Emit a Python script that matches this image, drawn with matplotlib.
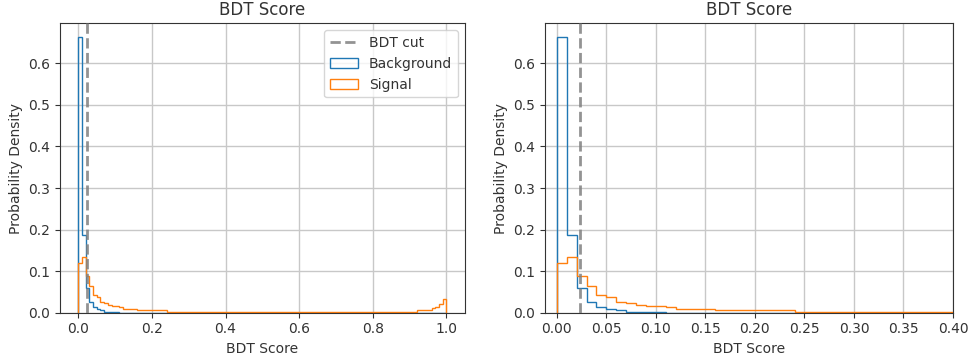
import numpy as np
import matplotlib
matplotlib.use('Agg')
import matplotlib.pyplot as plt

# bin edges of the BDT score histograms (width 0.01)
edges = np.linspace(0.0, 1.0, 101)

# background: fraction per bin, zero beyond 0.11
background = [0.663, 0.188, 0.060, 0.026, 0.0144, 0.0096, 0.0058, 0.003, 0.002, 0.001,
              0.001] + [0.0] * 89

# signal: fraction per bin
signal = [0.120, 0.1335, 0.088, 0.064, 0.0424, 0.038, 0.026, 0.024, 0.0184, 0.016,
          0.016, 0.013, 0.0096, 0.0096, 0.0096, 0.0096, 0.006, 0.006, 0.006, 0.006,
          0.006, 0.006, 0.006, 0.006, 0.0015, 0.0015, 0.0015, 0.0015, 0.0015, 0.0015,
          0.0015, 0.0015, 0.0015, 0.0015, 0.0015, 0.0015, 0.0015, 0.0015, 0.0015, 0.0015,
          0.0015, 0.0015, 0.0015, 0.0015, 0.0015, 0.0015, 0.0015, 0.0015, 0.0015, 0.0015,
          0.0015, 0.0015, 0.0015, 0.0015, 0.0015, 0.0015, 0.0015, 0.0015, 0.0015, 0.0015,
          0.0015, 0.0015, 0.0015, 0.0015, 0.0015, 0.0015, 0.0015, 0.0015, 0.0015, 0.0015,
          0.0015, 0.0015, 0.0015, 0.0015, 0.0015, 0.0015, 0.0015, 0.0015, 0.0015, 0.0015,
          0.0015, 0.0015, 0.0015, 0.0015, 0.0015, 0.0015, 0.0015, 0.0015, 0.0015, 0.0015,
          0.0015, 0.0015, 0.0065, 0.0065, 0.0065, 0.0065, 0.0105, 0.014, 0.022, 0.034]

bdt_cut = 0.0235

plt.rcParams['text.color'] = '#333333'
plt.rcParams['axes.labelcolor'] = '#333333'
plt.rcParams['xtick.color'] = '#333333'
plt.rcParams['ytick.color'] = '#333333'
plt.rcParams['axes.edgecolor'] = '#333333'
plt.rcParams['grid.color'] = '#c8c8c8'
plt.rcParams['grid.linewidth'] = 1.0

fig = plt.figure(figsize=(9.68, 3.62), dpi=100)
ax1 = fig.add_axes([0.062, 0.136, 0.418, 0.7994])
ax2 = fig.add_axes([0.563, 0.136, 0.4215, 0.7994])

centers = (edges[:-1] + edges[1:]) / 2

for ax in (ax1, ax2):
    ax.hist(centers, bins=edges, weights=background, histtype='step',
            color='C0', label='Background')
    ax.hist(centers, bins=edges, weights=signal, histtype='step',
            color='C1', label='Signal')
    ax.axvline(bdt_cut, color='gray', alpha=0.85, linestyle='--', linewidth=2,
               label='BDT cut', zorder=3)
    ax.set_title('BDT Score')
    ax.set_xlabel('BDT Score')
    ax.set_ylabel('Probability Density')
    ax.set_ylim(bottom=0)
    ax.grid(True)

h, l = ax1.get_legend_handles_labels()
ax1.legend([h[2], h[0], h[1]], [l[2], l[0], l[1]], loc='upper right')
ax2.set_xlim(-0.012, 0.4)
ax2.set_xticks(np.arange(0, 0.401, 0.05))

fig.savefig('out.png', dpi=100)
